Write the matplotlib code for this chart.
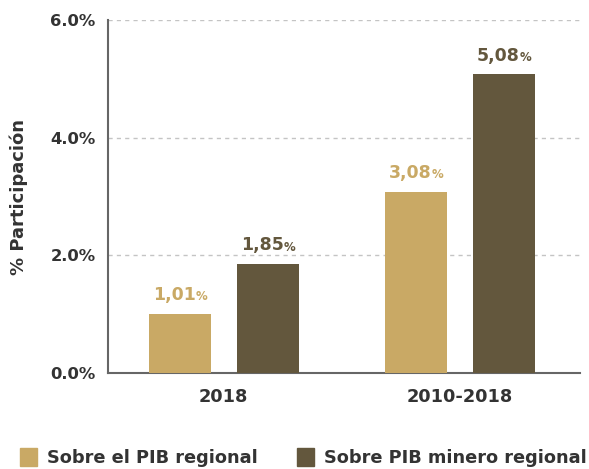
"""
Participacion de la mineria: barras agrupadas 2018 vs 2010-2018.
"""
import numpy as np
import matplotlib
matplotlib.use("Agg")
import matplotlib.pyplot as plt
from matplotlib.patches import Patch

plt.rcParams['font.family'] = ['DejaVu Sans']
plt.rcParams['font.weight'] = 'bold'

periodos = ["2018", "2010-2018"]
pib_regional = [1.01, 3.08]
pib_minero = [1.85, 5.08]
etiquetas_regional = ["1,01", "3,08"]
etiquetas_minero = ["1,85", "5,08"]
series = ["Sobre el PIB regional", "Sobre PIB minero regional"]
yticks = [0, 2, 4, 6]

oro = "#C9A965"
cafe = "#63573D"
gris = "#333333"

fig = plt.figure(figsize=(5.89, 4.69), dpi=100)
ax = fig.add_axes([0.1834, 0.2047, 0.8016, 0.7523])

x = np.arange(len(periodos))
w = 0.263
off = 0.186
b1 = ax.bar(x - off, pib_regional, w, color=oro, zorder=3)
b2 = ax.bar(x + off, pib_minero, w, color=cafe, zorder=3)


def etiquetar(bars, textos, color):
    for rect, txt in zip(bars, textos):
        cx = rect.get_x() + rect.get_width() / 2
        t = ax.annotate(txt, xy=(cx, rect.get_height()), xytext=(-4, 7),
                        textcoords="offset points", ha="center", va="bottom",
                        fontsize=12.5, fontweight="bold", color=color)
        ax.annotate("%", xy=(1, 0), xycoords=t, xytext=(0, 0.5),
                    textcoords="offset points", ha="left", va="bottom",
                    fontsize=8.5, fontweight="bold", color=color)


etiquetar(b1, etiquetas_regional, oro)
etiquetar(b2, etiquetas_minero, cafe)

ax.set_xlim(-0.49, 0.51 + 1)
ax.set_ylim(0, 6)
ax.set_yticks(yticks)
ax.set_yticklabels(["{:.1f}%".format(v) for v in yticks])
ax.set_xticks(x)
ax.set_xticklabels(periodos)
ax.tick_params(axis="y", length=0, labelsize=11.8, colors=gris, pad=9)
ax.tick_params(axis="x", length=0, labelsize=12.8, colors=gris, pad=11)
for lbl in ax.get_xticklabels() + ax.get_yticklabels():
    lbl.set_fontweight("bold")

for v in yticks[1:]:
    ax.axhline(v, color="#C4C4C4", lw=1, ls=(0, (3, 3)), zorder=1)

for s in ["top", "right"]:
    ax.spines[s].set_visible(False)
ax.spines["left"].set_color("#666666")
ax.spines["bottom"].set_color("#666666")
ax.spines["left"].set_linewidth(1.5)
ax.spines["bottom"].set_linewidth(1.5)

ax.set_ylabel("% Participación", fontsize=13, fontweight="bold", color=gris,
              labelpad=16)

handles = [Patch(color=oro), Patch(color=cafe)]
fig.legend(handles, series, loc="lower center", ncol=2, frameon=False,
           bbox_to_anchor=(0.515, -0.03), handlelength=0.95, handleheight=1.15,
           handletextpad=0.55, columnspacing=2.2,
           prop={"size": 12.8, "weight": "bold"}, labelcolor=gris)

fig.savefig("out.png", dpi=100)
